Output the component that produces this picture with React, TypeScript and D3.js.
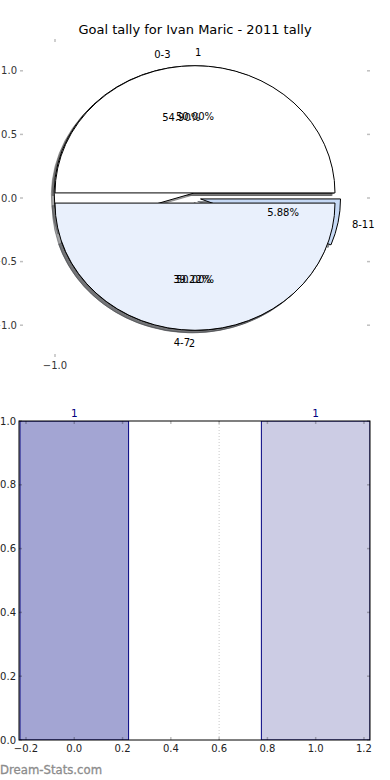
import React, { useRef, useEffect } from 'react';
import * as d3 from 'd3';

// chart data
const TITLE = 'Goal tally for Ivan Maric - 2011 tally';
const tallyLabels = ['0-3', '4-7', '8-11'];
const tallyValues = [28, 20, 3];
const tallyColors = ['#ffffff', '#e9f0fc', '#c6d9f5'];
const splitLabels = ['1', '2'];
const splitValues = [1, 1];
const splitColors = ['#ffffff', '#e9f0fc'];
const pieYTicks = [1.0, 0.5, 0.0, -0.5, -1.0];
const pieXTicks = [-1.0];

const barCats = [0, 1];
const barValues = [1, 1];
const barLabels = ['1', '1'];
const barColors = ['#a3a5d3', '#cccce4'];
const barXTicks = [-0.2, 0.0, 0.2, 0.4, 0.6, 0.8, 1.0, 1.2];
const barYTicks = [0.0, 0.2, 0.4, 0.6, 0.8, 1.0];

const W = 390;
const H = 780;
const FONT = '"DejaVu Sans", sans-serif';

const fmtTick = (d: number) => d.toFixed(1).replace('-', '\u2212');

const App = () => {
  const svgRef = useRef<SVGSVGElement>(null);

  useEffect(() => {
    const svg = d3.select(svgRef.current);
    svg.selectAll('*').remove();

    // ---------- pie axes ----------
    const pie = { left: 20, right: 370, top: 39, bottom: 357 };
    const px = d3.scaleLinear().domain([-1.25, 1.25]).range([pie.left, pie.right]);
    const py = d3.scaleLinear().domain([-1.25, 1.25]).range([pie.bottom, pie.top]);
    const sx = px(1) - px(0);
    const sy = py(0) - py(1);

    const explode = 0.04;
    const pieGen = d3.pie<number>().sort(null).startAngle(Math.PI / 2).endAngle(Math.PI / 2 - 2 * Math.PI);
    const arc = d3.arc<any>().innerRadius(0).outerRadius(1);

    const buildWedges = (values: number[], labels: string[], colors: string[]) => {
      const total = d3.sum(values);
      return pieGen(values).map((p, i) => {
        const theta = Math.PI / 2 - (p.startAngle + p.endAngle) / 2;
        const ox = explode * Math.cos(theta);
        const oy = explode * Math.sin(theta);
        return {
          path: arc({ startAngle: Math.min(p.startAngle, p.endAngle), endAngle: Math.max(p.startAngle, p.endAngle) }),
          ox, oy, theta,
          color: colors[i % colors.length],
          label: labels[i],
          pct: ((values[i] / total) * 100).toFixed(2) + '%'
        };
      });
    };

    const wedges1 = buildWedges(tallyValues, tallyLabels, tallyColors);
    const wedges2 = buildWedges(splitValues, splitLabels, splitColors);
    const all = [...wedges1, ...wedges2];

    const pieG = svg.append('g');

    // shadows under everything
    all.forEach(w => {
      const c = d3.rgb(w.color);
      const sh = d3.rgb(c.r * 0.3, c.g * 0.3, c.b * 0.3).toString();
      pieG.append('path')
        .attr('d', w.path)
        .attr('transform', `translate(${px(w.ox - 0.02)},${py(w.oy - 0.02)}) scale(${sx},${sy})`)
        .attr('fill', sh)
        .attr('fill-opacity', 0.5)
        .attr('stroke', sh)
        .attr('stroke-opacity', 0.5)
        .attr('stroke-width', 1)
        .attr('vector-effect', 'non-scaling-stroke');
    });

    all.forEach(w => {
      pieG.append('path')
        .attr('d', w.path)
        .attr('transform', `translate(${px(w.ox)},${py(w.oy)}) scale(${sx},${sy})`)
        .attr('fill', w.color)
        .attr('stroke', '#000')
        .attr('stroke-width', 1)
        .attr('stroke-linejoin', 'round')
        .attr('vector-effect', 'non-scaling-stroke');
    });

    all.forEach(w => {
      const lx = w.ox + 1.1 * Math.cos(w.theta);
      const ly = w.oy + 1.1 * Math.sin(w.theta);
      pieG.append('text')
        .attr('x', px(lx))
        .attr('y', py(ly))
        .attr('dy', '0.35em')
        .attr('text-anchor', lx > 0 ? 'start' : 'end')
        .style('font-family', FONT)
        .style('font-size', '10px')
        .style('fill', '#000')
        .text(w.label);
      pieG.append('text')
        .attr('x', px(w.ox + 0.6 * Math.cos(w.theta)))
        .attr('y', py(w.oy + 0.6 * Math.sin(w.theta)))
        .attr('dy', '0.35em')
        .attr('text-anchor', 'middle')
        .style('font-family', FONT)
        .style('font-size', '10px')
        .style('fill', '#000')
        .text(w.pct);
    });

    const tickStyle = (sel: any) => sel
      .attr('stroke', '#000')
      .attr('stroke-opacity', 0.25)
      .attr('stroke-width', 1.5);

    // pie ticks (no frame)
    pieYTicks.forEach(t => {
      tickStyle(pieG.append('line').attr('x1', pie.left).attr('x2', pie.left + 3).attr('y1', py(t)).attr('y2', py(t)));
      tickStyle(pieG.append('line').attr('x1', pie.right - 3).attr('x2', pie.right).attr('y1', py(t)).attr('y2', py(t)));
      pieG.append('text')
        .attr('x', pie.left - 3)
        .attr('y', py(t))
        .attr('dy', '0.35em')
        .attr('text-anchor', 'end')
        .style('font-family', FONT)
        .style('font-size', '10px')
        .style('fill', '#333')
        .text(fmtTick(t));
    });
    pieXTicks.forEach(t => {
      tickStyle(pieG.append('line').attr('x1', px(t)).attr('x2', px(t)).attr('y1', pie.top).attr('y2', pie.top + 3));
      tickStyle(pieG.append('line').attr('x1', px(t)).attr('x2', px(t)).attr('y1', pie.bottom - 3).attr('y2', pie.bottom));
      pieG.append('text')
        .attr('x', px(t))
        .attr('y', pie.bottom + 12)
        .attr('text-anchor', 'middle')
        .style('font-family', FONT)
        .style('font-size', '10px')
        .style('fill', '#333')
        .text(fmtTick(t));
    });

    svg.append('text')
      .attr('x', W / 2)
      .attr('y', 34)
      .attr('text-anchor', 'middle')
      .style('font-family', FONT)
      .style('font-size', '13px')
      .style('fill', '#000')
      .text(TITLE);

    // ---------- bar axes ----------
    const bar = { left: 19, right: 370, top: 421, bottom: 740 };
    const bx = d3.scaleLinear().domain([-0.229, 1.225]).range([bar.left, bar.right]);
    const by = d3.scaleLinear().domain([0, 1]).range([bar.bottom, bar.top]);
    const barWidth = 0.45;

    const barG = svg.append('g');
    barG.append('clipPath').attr('id', 'bar-clip')
      .append('rect')
      .attr('x', bar.left).attr('y', bar.top)
      .attr('width', bar.right - bar.left).attr('height', bar.bottom - bar.top);

    const plot = barG.append('g').attr('clip-path', 'url(#bar-clip)');

    plot.selectAll('.bar')
      .data(barCats)
      .enter()
      .append('rect')
      .attr('class', 'bar')
      .attr('x', d => bx(d - barWidth / 2))
      .attr('width', d => bx(d + barWidth / 2) - bx(d - barWidth / 2))
      .attr('y', (d, i) => by(barValues[i]))
      .attr('height', (d, i) => by(0) - by(barValues[i]))
      .attr('fill', (d, i) => barColors[i])
      .attr('stroke', '#000080')
      .attr('stroke-width', 1);

    // dotted separator
    plot.append('line')
      .attr('x1', bx(0.6)).attr('x2', bx(0.6))
      .attr('y1', bar.top).attr('y2', bar.bottom)
      .attr('stroke', '#c8c8c8')
      .attr('stroke-width', 1)
      .attr('stroke-dasharray', '1,2');

    barXTicks.forEach(t => {
      tickStyle(barG.append('line').attr('x1', bx(t)).attr('x2', bx(t)).attr('y1', bar.bottom).attr('y2', bar.bottom - 3));
      tickStyle(barG.append('line').attr('x1', bx(t)).attr('x2', bx(t)).attr('y1', bar.top).attr('y2', bar.top + 3));
      barG.append('text')
        .attr('x', bx(t))
        .attr('y', bar.bottom + 12)
        .attr('text-anchor', 'middle')
        .style('font-family', FONT)
        .style('font-size', '10px')
        .style('fill', '#222')
        .text(fmtTick(t));
    });
    barYTicks.forEach(t => {
      tickStyle(barG.append('line').attr('x1', bar.left).attr('x2', bar.left + 3).attr('y1', by(t)).attr('y2', by(t)));
      tickStyle(barG.append('line').attr('x1', bar.right - 3).attr('x2', bar.right).attr('y1', by(t)).attr('y2', by(t)));
      barG.append('text')
        .attr('x', bar.left - 3)
        .attr('y', by(t))
        .attr('dy', '0.35em')
        .attr('text-anchor', 'end')
        .style('font-family', FONT)
        .style('font-size', '10px')
        .style('fill', '#222')
        .text(fmtTick(t));
    });

    barG.append('rect')
      .attr('x', bar.left).attr('y', bar.top)
      .attr('width', bar.right - bar.left).attr('height', bar.bottom - bar.top)
      .attr('fill', 'none')
      .attr('stroke', '#000')
      .attr('stroke-width', 1);

    barG.selectAll('.bar-label')
      .data(barCats)
      .enter()
      .append('text')
      .attr('class', 'bar-label')
      .attr('x', d => bx(d))
      .attr('y', (d, i) => by(barValues[i]) - 4)
      .attr('text-anchor', 'middle')
      .style('font-family', FONT)
      .style('font-size', '10.5px')
      .style('fill', '#000080')
      .text((d, i) => barLabels[i]);

    // watermark
    svg.append('text')
      .attr('x', 0)
      .attr('y', 774)
      .style('font-family', FONT)
      .style('font-size', '11.7px')
      .style('fill', '#8c8c8c')
      .style('stroke', '#8c8c8c')
      .style('stroke-width', 0.3)
      .text('Dream-Stats.com');
  }, []);

  return (
    <svg
      ref={svgRef}
      width={W}
      height={H}
      style={{ position: 'absolute', left: 0, top: 0, display: 'block', background: '#fff' }}
    />
  );
};

export default App;
